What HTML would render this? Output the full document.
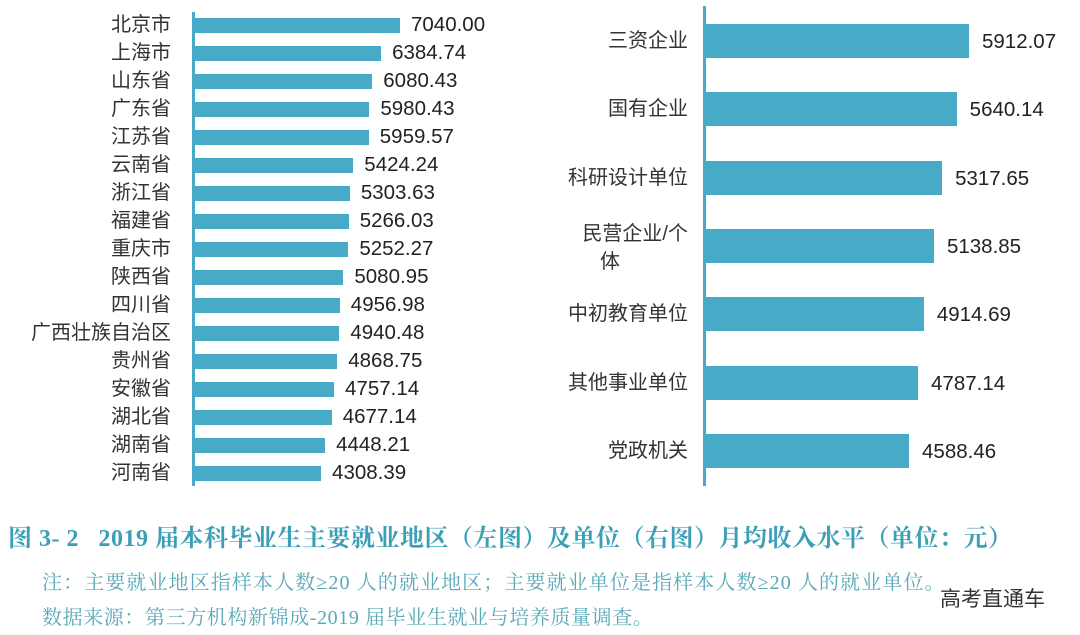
<!DOCTYPE html>
<html><head><meta charset="utf-8"><style>
body{margin:0;width:1080px;height:635px;background:#fff;overflow:hidden;position:relative;font-family:"Liberation Sans","Noto Sans CJK SC",sans-serif}
.a{position:absolute}
.bar{position:absolute;background:#47aac6}
.lb{position:absolute;color:#333;font-size:20px;text-align:right;white-space:nowrap;line-height:20px}
.v{position:absolute;color:#222;font-size:20.5px;white-space:nowrap;line-height:20px}
.serif{font-family:"Liberation Serif","Noto Serif CJK SC",serif}
</style></head><body>
<div class="a" style="left:192px;top:12px;width:3px;height:474px;background:#47aac6"></div>
<div class="a" style="left:703px;top:6px;width:3px;height:480px;background:#47aac6"></div>
<div id="L"></div><div id="R"></div>
<div class="a serif" style="left:8px;top:518px;font-size:24px;font-weight:bold;color:#3c9fb8;white-space:nowrap;letter-spacing:0.5px">图 3- 2&nbsp;&nbsp;&nbsp;2019 届本科毕业生主要就业地区（左图）及单位（右图）月均收入水平（单位：元）</div>
<div class="a serif" style="left:42px;top:566px;font-size:20px;color:#5aa8b8;white-space:nowrap;letter-spacing:1.1px">注：主要就业地区指样本人数≥20 人的就业地区；主要就业单位是指样本人数≥20 人的就业单位。</div>
<div class="a serif" style="left:42px;top:601px;font-size:20px;color:#5aa8b8;white-space:nowrap;letter-spacing:0.6px">数据来源：第三方机构新锦成-2019 届毕业生就业与培养质量调查。</div>
<div class="a" style="left:940px;top:583px;font-size:21px;color:#333;white-space:nowrap">高考直通车</div>
<script>
var L=[["北京市",7040.00],["上海市",6384.74],["山东省",6080.43],["广东省",5980.43],["江苏省",5959.57],["云南省",5424.24],["浙江省",5303.63],["福建省",5266.03],["重庆市",5252.27],["陕西省",5080.95],["四川省",4956.98],["广西壮族自治区",4940.48],["贵州省",4868.75],["安徽省",4757.14],["湖北省",4677.14],["湖南省",4448.21],["河南省",4308.39]];
var h="";
L.forEach(function(d,i){var t=18+i*28;var e=400-(7040-d[1])*0.0289;
h+='<div class="bar" style="left:195px;top:'+t+'px;width:'+(e-195)+'px;height:15px"></div>';
h+='<div class="lb" style="right:'+(1080-171)+'px;top:'+(t-3)+'px">'+d[0]+'</div>';
h+='<div class="v" style="left:'+(e+11)+'px;top:'+(t-3)+'px">'+d[1].toFixed(2)+'</div>';});
document.getElementById("L").innerHTML=h;
var R=[["三资企业",5912.07],["国有企业",5640.14],["科研设计单位",5317.65],["民营企业/个<br><span style=\"margin-right:68px\">体</span>",5138.85],["中初教育单位",4914.69],["其他事业单位",4787.14],["党政机关",4588.46]];
h="";
R.forEach(function(d,i){var t=24+i*68.3;var e=969-(5912.07-d[1])*0.0453;
h+='<div class="bar" style="left:706px;top:'+t+'px;width:'+(e-706)+'px;height:34px"></div>';
var multi=d[0].indexOf("<br>")>=0;
h+='<div class="lb" style="right:'+(1080-688)+'px;top:'+(multi?t-9:t+7)+'px;line-height:'+(multi?'28px':'20px')+'">'+d[0]+'</div>';
h+='<div class="v" style="left:'+(e+13)+'px;top:'+(t+8)+'px">'+d[1].toFixed(2)+'</div>';});
document.getElementById("R").innerHTML=h;
</script>
</body></html>
